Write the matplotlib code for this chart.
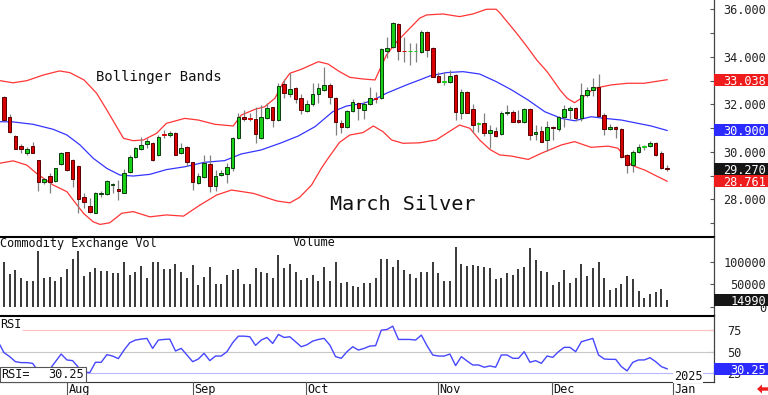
import matplotlib
matplotlib.use('Agg')
import matplotlib.pyplot as plt
import matplotlib.transforms as mtransforms
from matplotlib.patches import Rectangle, Polygon

# March Silver daily bars, Jul 16 .. Dec 27
opens = [32.33, 31.45, 30.68, 30.26, 29.94, 30.24, 29.66, 28.73, 28.99, 28.77,
         29.49, 29.98, 29.66, 29.42, 28.11, 27.72, 27.43, 28.21, 28.21, 28.59,
         28.42, 28.28, 29.16, 29.77, 30.10, 30.33, 30.39, 29.87, 30.75, 30.69,
         30.81, 29.94, 30.22, 29.56, 28.70, 28.92, 29.49, 28.56, 29.04, 29.06,
         29.33, 30.57, 31.48, 31.42, 31.38, 30.57, 31.41, 31.87, 31.34, 32.86,
         32.44, 32.68, 32.25, 31.73, 32.02, 32.42, 32.61, 32.82, 32.28, 31.23,
         31.03, 31.73, 32.04, 31.76, 32.02, 32.25, 32.25, 34.25, 34.40, 35.39,
         34.27, 34.24, 34.25, 34.22, 35.04, 34.36, 33.20, 32.95, 32.96, 33.24,
         31.65, 32.52, 31.80, 31.16, 31.20, 30.78, 30.89, 30.75, 31.62, 31.69,
         31.34, 31.27, 31.80, 30.75, 30.88, 30.50, 31.06, 30.95, 31.45, 31.76,
         31.83, 31.41, 32.39, 32.61, 32.75, 31.55, 30.95, 31.03, 30.96, 29.87,
         29.44, 30.01, 30.21, 30.26, 30.39, 29.94, 29.32]
highs = [32.35, 31.59, 30.71, 30.33, 30.22, 30.40, 29.66, 28.88, 29.09, 29.33,
         29.99, 30.01, 29.68, 29.44, 28.25, 28.04, 28.32, 28.36, 28.81, 28.70,
         28.81, 29.26, 29.87, 30.22, 30.61, 30.57, 30.41, 30.71, 30.92, 30.88,
         30.84, 30.39, 30.24, 29.58, 29.09, 29.87, 29.85, 29.23, 29.23, 29.54,
         30.64, 31.62, 31.76, 31.62, 31.87, 31.97, 32.07, 31.90, 32.91, 33.06,
         33.31, 32.72, 32.44, 32.18, 32.91, 32.89, 33.59, 32.89, 32.33, 31.34,
         31.76, 32.21, 32.11, 32.16, 32.72, 32.54, 34.36, 34.83, 35.47, 35.42,
         34.85, 34.57, 34.57, 35.14, 35.11, 34.40, 33.38, 33.38, 33.45, 33.28,
         32.63, 32.55, 32.02, 31.27, 31.62, 31.13, 31.03, 31.73, 31.97, 31.76,
         31.76, 31.83, 31.83, 31.13, 31.09, 31.31, 31.09, 31.51, 31.97, 31.93,
         31.90, 32.91, 32.72, 33.10, 33.28, 31.62, 31.17, 31.09, 30.99, 29.91,
         30.08, 30.33, 30.29, 30.46, 30.43, 30.05, 29.44]
lows = [31.31, 30.81, 30.10, 29.94, 29.87, 29.94, 28.36, 28.64, 28.25, 28.74,
        29.46, 29.20, 28.53, 27.41, 27.62, 27.41, 27.41, 28.11, 28.18, 28.28,
        27.97, 28.25, 29.09, 29.73, 30.08, 30.15, 29.61, 29.84, 30.57, 30.64,
        29.85, 29.91, 29.42, 28.39, 28.64, 28.88, 28.32, 28.36, 28.98, 28.70,
        29.19, 30.53, 31.31, 31.31, 30.39, 30.53, 31.37, 31.03, 31.31, 32.25,
        32.33, 32.04, 31.58, 31.69, 31.93, 32.07, 32.58, 32.02, 30.71, 30.81,
        30.99, 31.68, 31.34, 31.37, 31.96, 32.04, 32.21, 33.94, 34.36, 33.87,
        33.80, 33.66, 33.80, 34.18, 33.98, 33.14, 32.89, 32.82, 32.89, 31.34,
        31.37, 31.62, 30.81, 30.85, 30.67, 30.15, 30.61, 30.71, 31.55, 31.24,
        31.20, 31.23, 30.50, 30.50, 30.40, 30.05, 30.50, 30.89, 31.03, 31.37,
        31.31, 31.31, 32.33, 32.35, 31.48, 30.71, 30.92, 30.57, 29.73, 29.12,
        29.16, 29.96, 30.08, 30.22, 29.82, 29.26, 29.21]
closes = [31.34, 30.85, 30.13, 30.10, 30.13, 29.96, 28.73, 28.84, 28.74, 29.30,
          29.96, 29.23, 28.84, 28.01, 27.90, 27.48, 28.25, 28.28, 28.78, 28.64,
          28.36, 29.12, 29.80, 30.15, 30.29, 30.44, 29.64, 30.64, 30.72, 30.81,
          29.88, 30.16, 29.57, 28.71, 28.98, 29.54, 28.57, 28.98, 29.11, 29.37,
          30.57, 31.45, 31.40, 31.40, 30.74, 31.48, 31.83, 31.34, 32.77, 32.47,
          32.66, 32.24, 31.76, 32.00, 32.44, 32.68, 32.82, 32.30, 31.26, 31.06,
          31.73, 32.11, 31.83, 32.02, 32.25, 32.23, 34.32, 34.39, 35.44, 34.26,
          34.25, 34.26, 34.27, 35.07, 34.29, 33.17, 32.96, 32.97, 33.20, 31.69,
          32.54, 31.65, 31.13, 31.20, 30.78, 30.92, 30.67, 31.65, 31.69, 31.27,
          31.24, 31.79, 30.71, 30.85, 30.43, 31.06, 30.99, 31.48, 31.79, 31.83,
          31.41, 32.39, 32.61, 32.75, 31.51, 30.95, 31.03, 30.95, 29.77, 29.44,
          30.01, 30.22, 30.23, 30.39, 29.87, 29.30, 29.27]
volume = [101400, 73600, 82600, 65300, 57800, 57800, 125400, 65300, 67600, 57800,
          66100, 84100, 106600, 125400, 69100, 78900, 86400, 80400, 80400, 75100,
          75100, 99900, 71300, 78900, 92400, 65300, 101400, 101400, 84900, 84900,
          95400, 77400, 63800, 93900, 48800, 66100, 88600, 50300, 50300, 71300,
          82600, 84900, 51100, 50300, 86400, 77400, 76600, 63800, 116400, 86400,
          95400, 77400, 60100, 63800, 71300, 58600, 88600, 58600, 101400, 54100,
          56300, 46600, 45100, 52600, 52600, 63800, 107400, 107400, 88600, 104400,
          83400, 72800, 64600, 77400, 77400, 99900, 76600, 57800, 57800, 134400,
          95400, 91600, 94600, 90900, 90100, 86400, 62300, 65300, 76600, 71300,
          85600, 88600, 132900, 105100, 80400, 77400, 48800, 56300, 82600, 52600,
          64600, 96900, 69100, 87900, 101400, 65300, 36800, 41300, 51100, 69100,
          61600, 35300, 18800, 27800, 32300, 39800, 14990]
rsi = [48.9, 44.3, 38.5, 37.4, 37.4, 36.6, 27.5, 29.5, 29.8, 38.5,
       47.3, 40.5, 39.7, 32.1, 26.7, 25.9, 37.8, 37.8, 46.6, 45.0,
       42.0, 51.9, 60.3, 63.4, 64.5, 65.3, 53.8, 63.4, 64.1, 64.5,
       50.8, 53.8, 46.2, 38.5, 41.6, 48.1, 39.7, 45.0, 45.0, 50.0,
       60.3, 67.9, 67.9, 67.2, 57.3, 63.4, 66.4, 59.5, 69.8, 66.4,
       67.2, 61.5, 55.7, 58.0, 62.2, 64.1, 65.3, 57.6, 44.3, 42.4,
       50.0, 55.7, 51.9, 53.8, 56.5, 56.9, 74.8, 75.6, 79.4, 64.1,
       64.1, 64.1, 63.4, 69.1, 56.9, 46.2, 45.0, 45.0, 47.3, 34.0,
       44.3, 39.3, 34.7, 34.7, 32.1, 33.6, 32.1, 46.2, 46.2, 42.4,
       42.4, 50.0, 37.8, 39.7, 36.6, 45.0, 43.5, 50.0, 55.0, 55.0,
       50.0, 61.5, 63.4, 65.3, 46.2, 41.6, 41.2, 41.2, 32.8, 27.9,
       37.8, 40.5, 40.5, 43.1, 38.5, 32.8, 30.25]
rsi_at_left_edge = 57.6

# Bollinger bands (bar index, price)
upper_x = [-0.7, 1.6, 4, 6.9, 9.7, 11.5, 14, 16.2, 18, 19.7,
           20.9, 22.6, 24.4, 26.7, 28.4, 31.6, 34, 36.9, 40.1, 41.5,
           43.9, 45.6, 47.4, 48.8, 50, 52, 55, 56.7, 58.7, 60.5,
           62.8, 64.9, 65.7, 66.9, 68.7, 71, 72.7, 73.9, 76.8, 79.7,
           82, 84.4, 86.1, 86.8, 89.7, 91.5, 93.2, 95.0, 97.3, 98.5,
           99.8, 101, 103.3, 106.2, 109.1, 112, 116]
upper_y = [33.00, 32.91, 33.00, 33.24, 33.41, 33.34, 33.03, 32.47, 31.76, 31.06,
           30.57, 30.47, 30.50, 30.78, 31.20, 31.41, 31.34, 31.16, 31.09, 31.55,
           31.79, 31.90, 32.26, 32.91, 33.31, 33.48, 33.80, 33.70, 33.38, 33.14,
           33.07, 33.03, 33.45, 34.08, 34.64, 35.21, 35.63, 35.77, 35.81, 35.70,
           35.81, 36.01, 36.01, 35.84, 34.99, 34.43, 33.87, 33.38, 32.60, 32.26,
           32.07, 32.26, 32.68, 32.82, 32.89, 32.89, 33.04]
mid_x = [-0.7, 1.6, 5.1, 8.6, 11, 13.3, 15.6, 18, 20.3, 22.6,
         25.5, 28.4, 31.6, 35.1, 38.6, 41.5, 45, 48.5, 51.5, 54.4,
         57.5, 59.9, 62.8, 64.6, 66.9, 70.4, 72.7, 74.5, 77.4, 80.3,
         83.2, 86.1, 88.8, 91.7, 94.6, 97.5, 99.8, 102.7, 105.1, 108,
         110.9, 113.2, 116]
mid_y = [31.27, 31.26, 31.16, 30.95, 30.71, 30.29, 29.73, 29.30, 29.02, 28.98,
         29.05, 29.25, 29.37, 29.56, 29.63, 29.91, 30.08, 30.38, 30.67, 31.06,
         31.69, 31.93, 32.04, 32.18, 32.47, 32.82, 33.03, 33.20, 33.34, 33.38,
         33.28, 32.96, 32.61, 32.18, 31.69, 31.41, 31.31, 31.48, 31.41, 31.34,
         31.20, 31.09, 30.90]
low_x = [-0.7, 1.6, 4, 5.7, 8.6, 11, 12.1, 13.9, 15.6, 16.8,
         18.5, 20.6, 22.6, 25.5, 28.4, 31.4, 34.3, 37.2, 39.8, 43.6,
         47.7, 50, 51.7, 53.8, 55.5, 56.7, 58.7, 60.5, 62.8, 64.6,
         66.3, 67.8, 69.8, 72.7, 75.6, 77.4, 79.7, 81.5, 83.2, 85,
         86.7, 88.8, 91.7, 94, 97.5, 99.8, 102.7, 105.7, 107.4, 109.7,
         112.1, 114.4, 116]
low_y = [29.52, 29.62, 29.44, 29.09, 28.60, 28.32, 27.97, 27.41, 27.05, 26.94,
         27.01, 27.41, 27.48, 27.26, 27.34, 27.29, 27.76, 28.18, 28.39, 28.25,
         27.93, 27.85, 28.08, 28.60, 29.30, 29.73, 30.40, 30.71, 30.81, 31.09,
         30.85, 30.50, 30.36, 30.38, 30.50, 30.78, 31.13, 30.99, 30.50, 30.10,
         29.87, 29.82, 29.68, 29.94, 30.29, 30.43, 30.19, 30.24, 30.15, 29.44,
         29.23, 28.95, 28.76]

last_upper, last_mid, last_close, last_lower = 33.038, 30.900, 29.270, 28.761
last_rsi = 30.25
price_ticks = [28, 30, 32, 34, 36]
vol_ticks = [0, 50000, 100000]
rsi_levels = [25, 50, 75]
months = ['Aug', 'Sep', 'Oct', 'Nov', 'Dec', 'Jan']
month_pos = [11.0, 33.0, 52.8, 75.9, 95.8, 117.0]

W, H = 768, 395
MONO = 'DejaVu Sans Mono'


def px_box(x0, y0, x1, y1):
    return [x0 / W, 1 - y1 / H, (x1 - x0) / W, (y1 - y0) / H]


fig = plt.figure(figsize=(W / 100, H / 100), dpi=100)
ax_p = fig.add_axes(px_box(0, 0, 714, 237))
ax_v = fig.add_axes(px_box(0, 237, 714, 316))
ax_r = fig.add_axes(px_box(0, 316, 714, 382))
ax_d = fig.add_axes(px_box(0, 382, 714, 395))

for ax in (ax_p, ax_v, ax_r, ax_d):
    ax.set_xlim(-0.70, 124.2)
    ax.set_xticks([])
    ax.set_facecolor('none')
    for s in ax.spines.values():
        s.set_visible(False)
for ax in (ax_p, ax_v, ax_r):
    ax.spines['right'].set_visible(True)
    ax.spines['right'].set_color('#444444')
    ax.spines['right'].set_linewidth(0.9)
    ax.spines['bottom'].set_visible(True)
    ax.spines['bottom'].set_color('black')
    ax.spines['bottom'].set_linewidth(1.5)
    ax.yaxis.tick_right()
    ax.tick_params(axis='y', direction='in', length=3, width=0.8,
                   color='#555555', labelright=False)
ax_r.spines['bottom'].set_linewidth(0.8)
ax_r.spines['bottom'].set_color('#333333')

ax_p.set_ylim(26.41, 36.40)
ax_v.set_ylim(-20946, 156982)
ax_r.set_ylim(15.1, 91.1)
ax_d.set_ylim(0, 1)
ax_d.set_yticks([])
ax_p.set_yticks(range(27, 37))
ax_v.set_yticks(vol_ticks)
ax_r.set_yticks(rsi_levels)

# price panel
idx = list(range(len(closes)))
face, edge = [], []
for o, c in zip(opens, closes):
    col = '#18d018' if c >= o else '#d80000'
    face.append(col)
    if abs(c - o) < 0.05:
        edge.append(col)
    else:
        edge.append('#0b3a0b' if c >= o else '#5a0000')
ax_p.plot(upper_x, upper_y, color='#ff3535', lw=0.9, zorder=1)
ax_p.plot(low_x, low_y, color='#ff3535', lw=0.9, zorder=1)
ax_p.plot(mid_x, mid_y, color='#3535ff', lw=0.9, zorder=1)
ax_p.vlines(idx, lows, highs, color='#808080', lw=0.9, zorder=2)
ax_p.bar(idx, [c - o for o, c in zip(opens, closes)], bottom=opens, width=0.62,
         color=face, edgecolor=edge, linewidth=0.7, zorder=3)

# volume panel
ax_v.vlines(idx, 0, volume, color='#383838', lw=1.4)

# rsi panel
ax_r.hlines(75, 3.15, 124.2, color='#ffc0c0', lw=0.8)
ax_r.hlines(50, -0.7, 124.2, color='#c8c8c8', lw=0.8)
ax_r.hlines(25, -0.7, 124.2, color='#b8b8ff', lw=0.8)
ax_r.plot([-0.7] + idx, [rsi_at_left_edge] + rsi, color='#4646ff', lw=1.0, zorder=3)

# date strip
tr_d = mtransforms.blended_transform_factory(ax_d.transData, ax_d.transAxes)
for name, pos in zip(months, month_pos):
    ax_d.axvline(pos, color='#555555', lw=0.8)
    ax_d.text(pos + 0.25, 0.45, name, transform=tr_d, ha='left', va='center',
              fontsize=8.6, family=MONO, color='#111111')


def side_text(ax, val, s, x_px, ha='right', color='#222222', bg=None):
    tr = mtransforms.blended_transform_factory(fig.transFigure, ax.transData)
    z = 3
    if bg is not None:
        y0, y1 = ax.get_ylim()
        half = 6.0 * (y1 - y0) / ax.bbox.height
        ax.add_patch(Rectangle((714 / W, val - half), 54 / W, 2 * half, transform=tr,
                               facecolor=bg, edgecolor='none', clip_on=False, zorder=5))
        z = 6
    ax.text(x_px / W, val, s, transform=tr, ha=ha, va='center_baseline', fontsize=8.6,
            family=MONO, color=color, clip_on=False, zorder=z)


for v in price_ticks:
    side_text(ax_p, v, f'{v:.3f}', 766)
side_text(ax_p, last_upper, f'{last_upper:.3f}', 766, color='white', bg='#ee1c1c')
side_text(ax_p, last_mid, f'{last_mid:.3f}', 766, color='white', bg='#2b2bff')
side_text(ax_p, last_close, f'{last_close:.3f}', 766, color='white', bg='#151515')
side_text(ax_p, last_lower, f'{last_lower:.3f}', 766, color='white', bg='#ee1c1c')

for v in vol_ticks:
    side_text(ax_v, v, str(v), 766)
side_text(ax_v, volume[-1], str(volume[-1]), 766, color='white', bg='#151515')

for v in rsi_levels:
    side_text(ax_r, v, str(v), 727, ha='left')
side_text(ax_r, last_rsi, f'{last_rsi:.2f}', 766, color='white', bg='#2b2bff')

# labels
fig.text(96 / W, 1 - 77 / H, 'Bollinger Bands', fontsize=10, family=MONO,
         va='center', color='#111111')
fig.text(330 / W, 1 - 204 / H, 'March Silver', fontsize=14.5, family=MONO,
         va='center', color='#111111')
fig.text(0, 1 - 244 / H, 'Commodity Exchange Vol', fontsize=8.6, family=MONO,
         va='center', color='#111111')
fig.text(293 / W, 1 - 243 / H, 'Volume', fontsize=8.6, family=MONO,
         va='center', color='#111111')
fig.text(0, 1 - 324 / H, 'RSI', fontsize=8.6, family=MONO, va='center', color='#111111')

fig.add_artist(Rectangle((0, 1 - 382 / H), 86 / W, 15 / H, transform=fig.transFigure,
                         facecolor='white', edgecolor='#555555', lw=0.8, zorder=7))
fig.text(1 / W, 1 - 375 / H, 'RSI=', fontsize=8.6, family=MONO, va='center',
         color='#111111', zorder=8)
fig.text(84 / W, 1 - 375 / H, f'{last_rsi:.2f}', fontsize=8.6, family=MONO,
         va='center', ha='right', color='#111111', zorder=8)
fig.text(674 / W, 1 - 376 / H, '2025', fontsize=8.6, family=MONO, va='center',
         color='#111111', zorder=8,
         bbox=dict(facecolor='white', edgecolor='none', pad=0.5))

arrow_px = [(757, 389), (762, 384.5), (762, 387.3), (768, 387.3),
            (768, 390.7), (762, 390.7), (762, 393.5)]
fig.add_artist(Polygon([(x / W, 1 - y / H) for x, y in arrow_px], closed=True,
                       transform=fig.transFigure, facecolor='#ee1c1c',
                       edgecolor='none'))

fig.savefig('out.png', dpi=100, facecolor='white')
